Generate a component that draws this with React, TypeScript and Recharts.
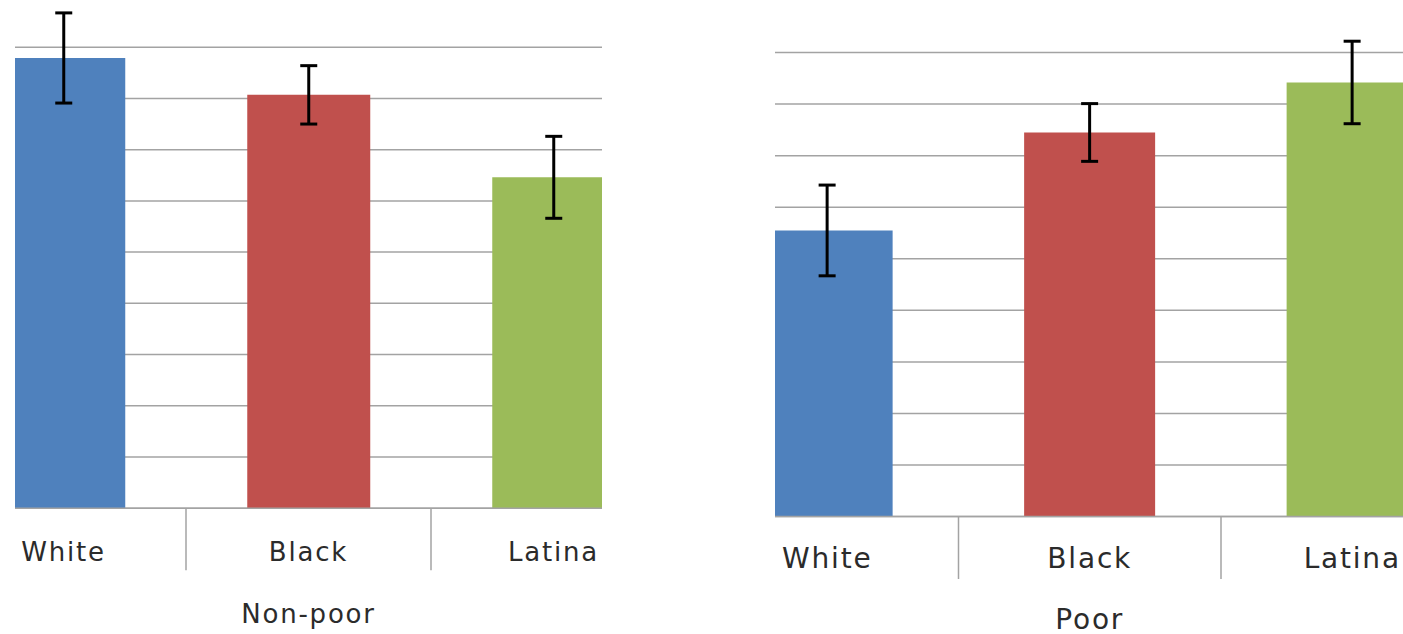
import { Bar, BarChart, CartesianGrid, Cell, ErrorBar, ReferenceLine, XAxis, YAxis } from "recharts";

const CATEGORIES = ["White", "Black", "Latina"];
const NON_POOR_VALUES = [8.79, 8.07, 6.46];
const NON_POOR_ERRORS = [0.88, 0.57, 0.8];
const POOR_VALUES = [5.55, 7.45, 8.42];
const POOR_ERRORS = [0.88, 0.56, 0.8];
// gridlines only up to 9, the top of the axis (10) is cut off in the picture
const Y_TICKS = [0, 1, 2, 3, 4, 5, 6, 7, 8, 9];
const BAR_COLORS = ["#4f81bd", "#c0504d", "#9bbb59"];

const FONT = "'DejaVu Sans', sans-serif";
const TEXT_COLOR = "#2b2b2b";
const GRID_COLOR = "#a3a3a3";

type PanelProps = {
  title: string;
  values: number[];
  errors: number[];
  clipLeft: number;
  clipWidth: number;
  chartLeft: number;
  chartTop: number;
  chartWidth: number;
  plotHeight: number;
  fontSize: number;
  tickDy: number;
  titleOffset: number;
};

const CHART_HEIGHT = 640;

function Panel(p: PanelProps) {
  const data = CATEGORIES.map((name, i) => ({ name, value: p.values[i], err: p.errors[i] }));

  const renderTick = (props: any) => (
    <text
      x={props.x}
      y={props.y + p.tickDy}
      textAnchor="middle"
      fontFamily={FONT}
      fontSize={p.fontSize}
      letterSpacing={1.8}
      fill={TEXT_COLOR}
    >
      {props.payload.value}
    </text>
  );

  return (
    <div
      style={{
        position: "absolute",
        left: p.clipLeft,
        top: 0,
        width: p.clipWidth,
        height: 634,
        overflow: "hidden",
      }}
    >
      <div style={{ position: "absolute", left: p.chartLeft, top: p.chartTop }}>
        <BarChart
          width={p.chartWidth}
          height={CHART_HEIGHT}
          data={data}
          margin={{ top: 0, right: 0, bottom: 0, left: 0 }}
          barCategoryGap="25%"
        >
          <CartesianGrid
            vertical={false}
            horizontalValues={Y_TICKS}
            stroke={GRID_COLOR}
            strokeWidth={1.5}
          />
          <YAxis hide type="number" domain={[0, 10]} ticks={Y_TICKS} />
          <XAxis
            dataKey="name"
            height={CHART_HEIGHT - p.plotHeight}
            tickLine={false}
            tickSize={0}
            tickMargin={0}
            axisLine={{ stroke: GRID_COLOR, strokeWidth: 1.5 }}
            tick={renderTick}
            label={{
              value: p.title,
              position: "insideBottom",
              offset: p.titleOffset,
              fontSize: p.fontSize,
              fontFamily: FONT,
              fill: TEXT_COLOR,
              letterSpacing: 1.8,
            }}
          />
          {CATEGORIES.slice(1).map((c) => (
            <ReferenceLine
              key={c}
              segment={[
                { x: c, y: 0 },
                { x: c, y: -1.21 },
              ]}
              position="start"
              ifOverflow="visible"
              stroke={GRID_COLOR}
              strokeWidth={1.5}
            />
          ))}
          <Bar dataKey="value" isAnimationActive={false}>
            {data.map((_, i) => (
              <Cell key={i} fill={BAR_COLORS[i % BAR_COLORS.length]} />
            ))}
            <ErrorBar dataKey="err" direction="y" width={8.5} strokeWidth={3} stroke="#000" />
          </Bar>
        </BarChart>
      </div>
    </div>
  );
}

export default function App() {
  return (
    <div
      style={{
        position: "absolute",
        left: 0,
        top: 0,
        width: 1403,
        height: 634,
        overflow: "hidden",
        background: "#fff",
      }}
    >
      <Panel
        title="Non-poor"
        values={NON_POOR_VALUES}
        errors={NON_POOR_ERRORS}
        clipLeft={15}
        clipWidth={587}
        chartLeft={-74.5}
        chartTop={-4.2}
        chartWidth={735}
        plotHeight={512.2}
        fontSize={26}
        tickDy={53}
        titleOffset={12.8}
      />
      <Panel
        title="Poor"
        values={POOR_VALUES}
        errors={POOR_ERRORS}
        clipLeft={775}
        clipWidth={628}
        chartLeft={-79.25}
        chartTop={1.4}
        chartWidth={787.5}
        plotHeight={515.6}
        fontSize={28}
        tickDy={51}
        titleOffset={12.5}
      />
    </div>
  );
}
